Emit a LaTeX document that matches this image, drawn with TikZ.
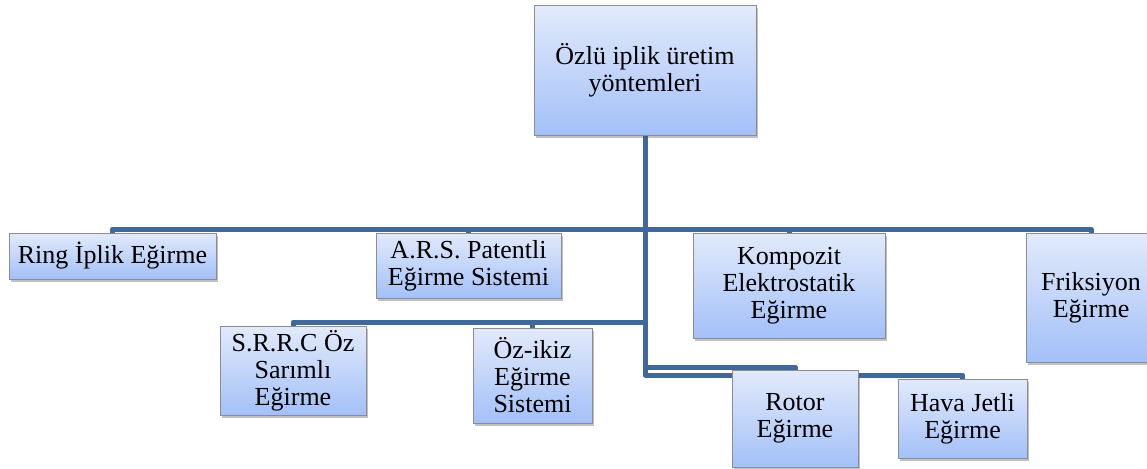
\documentclass[tikz,border=0pt]{standalone}
\usepackage{fontspec}
\setmainfont{Liberation Serif}
\newfontfamily\boxfont{Liberation Serif}
\usetikzlibrary{shadows,backgrounds}
\definecolor{connblue}{HTML}{41689B}
\definecolor{boxtop}{HTML}{E2EAFB}
\definecolor{boxbot}{HTML}{A3C0F8}
\definecolor{boxline}{HTML}{8A8D93}
\tikzset{
  box/.style={rectangle, draw=boxline, line width=1pt, top color=boxtop, bottom color=boxbot,
    inner sep=0pt, align=center, font=\boxfont\fontsize{26}{27}\selectfont,
    drop shadow={shadow xshift=1.5pt, shadow yshift=-2.5pt, opacity=0.35, fill=black!70}},
  conn/.style={draw=connblue, line width=5pt, line join=round}
}
\begin{document}
\begin{tikzpicture}[x=1pt,y=-1pt]
\useasboundingbox (0,0) rectangle (1147,468);
\clip (0,0) rectangle (1147,468);
\node[box, minimum width=222pt, minimum height=129pt] (root) at (645,70.5) {Özlü iplik üretim\\yöntemleri};
\node[box, minimum width=207pt, minimum height=46pt] (ring) at (112.5,256) {Ring İplik Eğirme};
\node[box, minimum width=185pt, minimum height=65pt] (ars) at (468.5,265.5) {A.R.S. Patentli\\Eğirme Sistemi};
\node[box, minimum width=192pt, minimum height=105pt] (komp) at (789,285.5) {Kompozit\\Elektrostatik\\Eğirme};
\node[box, minimum width=130pt, minimum height=129pt] (frik) at (1091,297.5) {Friksiyon\\Eğirme};
\node[box, minimum width=146pt, minimum height=89pt] (srrc) at (293,370.5) {S.R.R.C Öz\\Sarımlı\\Eğirme};
\node[box, minimum width=119pt, minimum height=95pt] (oz) at (532.5,375.5) {Öz-ikiz\\Eğirme\\Sistemi};
\node[box, minimum width=126pt, minimum height=97pt] (rotor) at (795,418.5) {Rotor\\Eğirme};
\node[box, minimum width=129pt, minimum height=79pt] (hava) at (962.5,418.5) {Hava Jetli\\Eğirme};
\coordinate (yA) at (0,229);
\coordinate (yB) at (0,322);
\coordinate (yC) at (0,367);
\coordinate (yD) at (0,375);
\begin{scope}[on background layer]
\draw[conn] (root.south) |- (ring.north |- yA) -- (ring.north);
\draw[conn] (root.south) |- (ars.north |- yA) -- (ars.north);
\draw[conn] (root.south) |- (komp.north |- yA) -- (komp.north);
\draw[conn] (root.south) |- (frik.north |- yA) -- (frik.north);
\draw[conn] (root.south) |- (srrc.north |- yB) -- (srrc.north);
\draw[conn] (root.south) |- (oz.north |- yB) -- (oz.north);
\draw[conn] (root.south) |- (rotor.north |- yC) -- (rotor.north);
\draw[conn] (root.south) |- (hava.north |- yD) -- (hava.north);
\end{scope}
\end{tikzpicture}
\end{document}
